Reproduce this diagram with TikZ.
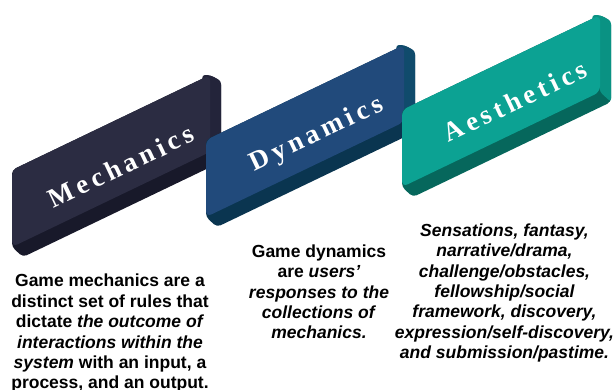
\documentclass[tikz,border=0pt]{standalone}
\usepackage{fontspec}
\setmainfont{Liberation Sans}
\newfontfamily\boxfont[LetterSpace=16]{Liberation Serif}
\definecolor{mechF}{HTML}{2B2C42}
\definecolor{mechS}{HTML}{23243A}
\definecolor{mechB}{HTML}{18192A}
\definecolor{dynF}{HTML}{214A7B}
\definecolor{dynS}{HTML}{104B6C}
\definecolor{dynB}{HTML}{0A3550}
\definecolor{aesF}{HTML}{0CA293}
\definecolor{aesS}{HTML}{0A9283}
\definecolor{aesB}{HTML}{06675C}
\newcommand\gamebox[5]{%
  \fill[#5, rounded corners=4pt] (#1+209,#2-89) -- (#1+209,#2-8) -- (#1+11,#2+87) -- (#1,#2+77) -- (#1,#2) -- (#1+198,#2-95) -- cycle;
  \fill[#4, rounded corners=3pt] (#1+190,#2-95) -- (#1+198,#2-95) -- (#1+209,#2-89) -- (#1+209,#2-8) -- (#1+198,#2-18) -- cycle;
  \fill[#3, rounded corners=6pt] (#1,#2) -- (#1+198,#2-95) -- (#1+198,#2-18) -- (#1,#2+77) -- cycle;
}
\tikzset{
  desc/.style={font=\bfseries\fontsize{17.5}{20.4}\selectfont, align=center, inner sep=0pt, anchor=north, text=black},
  boxlabel/.style={font=\boxfont\bfseries\fontsize{27}{30}\selectfont, text=white, rotate=25.5, inner sep=0pt}
}
\begin{document}
\begin{tikzpicture}[x=1pt,y=-1pt]
\useasboundingbox (0,0) rectangle (613,389);
\clip (0,0) rectangle (613,389);
\gamebox{12}{170}{mechF}{mechS}{mechB}
\node[boxlabel] (mech) at (121,166) {Mechanics};
\gamebox{206}{140}{dynF}{dynS}{dynB}
\node[boxlabel] (dyn) at (317,135) {Dynamics};
\gamebox{402}{110}{aesF}{aesS}{aesB}
\node[boxlabel] (aes) at (515,101) {Aesthetics};
\node[desc] (mtext) at (110,274) {Game mechanics are a\\distinct set of rules that\\dictate \textit{the outcome of}\\\textit{interactions within the}\\\textit{system} with an input, a\\process, and an output.};
\node[desc] (dtext) at (319,244.5) {Game dynamics\\are \textit{users’}\\\textit{responses to the}\\\textit{collections of}\\\textit{mechanics.}};
\node[desc] (atext) at (504.5,223.5) {\itshape Sensations, fantasy,\\\itshape narrative/drama,\\\itshape challenge/obstacles,\\\itshape fellowship/social\\\itshape framework, discovery,\\\itshape expression/self-discovery,\\\itshape and submission/pastime.};
\end{tikzpicture}
\end{document}
